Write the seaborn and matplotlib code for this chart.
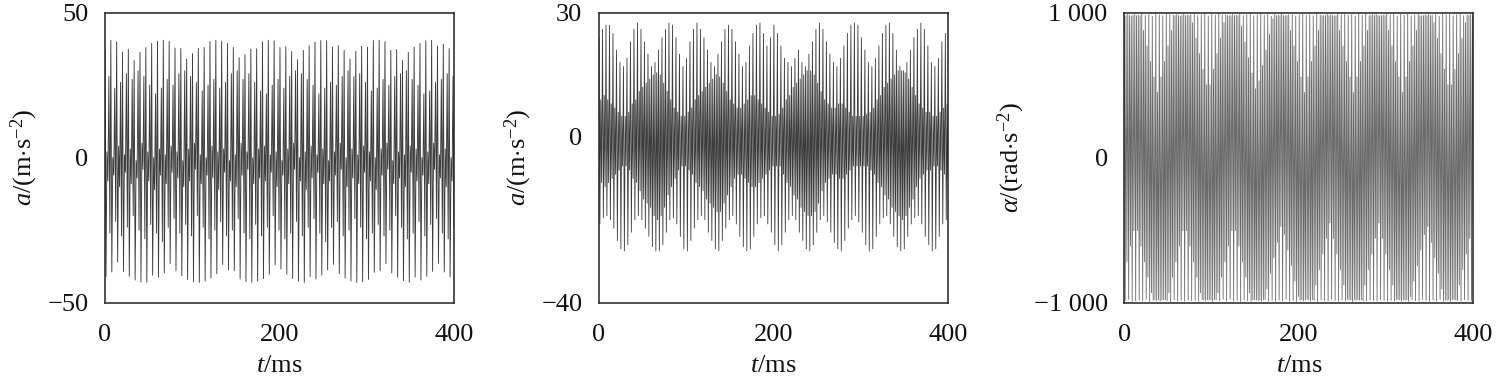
import numpy as np
import pandas as pd
import matplotlib
matplotlib.use("Agg")
import matplotlib.pyplot as plt
import seaborn as sns

# ---------------- data ----------------
x_limits = (0, 400)
x_ticks = [0, 200, 400]

# Panel 1: linear acceleration a/(m*s^-2); per vibration cycle: tall peak, tall trough,
# two small near-zero turning points, medium peak, medium trough
p1_tall_peak = [37.0, 40.5, 40.0, 36.5, 37.4, 33.5, 36.3, 38.0, 39.4, 40.2,
                40.5, 40.1, 37.8, 37.7, 34.0, 35.9, 37.7, 38.0, 40.1, 40.5,
                40.2, 39.4, 38.0, 34.5, 35.6, 37.4, 37.6, 40.0, 40.5, 40.3,
                38.0, 38.3, 36.6, 33.8, 37.0, 38.6, 39.8, 40.4, 40.4, 38.2,
                38.6, 37.0, 34.0, 36.7, 38.4, 38.1, 40.4, 40.5, 40.0, 37.0,
                37.3, 33.5, 36.3, 38.1, 39.4, 40.3, 40.5, 38.5, 39.1, 37.6]
p1_tall_trough = [-41.1, -39.4, -36.0, -39.2, -40.9, -42.2, -42.9, -43.0, -40.5, -41.2,
                  -39.7, -36.5, -39.0, -40.7, -42.0, -42.8, -43.0, -42.5, -41.5, -40.0,
                  -36.8, -38.7, -39.0, -41.8, -42.7, -43.0, -42.6, -41.7, -40.2, -37.0,
                  -38.4, -40.2, -41.7, -42.6, -43.0, -41.0, -41.8, -40.5, -38.7, -36.8,
                  -40.0, -41.5, -42.5, -43.0, -42.8, -42.0, -39.5, -39.0, -36.5, -39.7,
                  -41.2, -42.4, -43.0, -41.2, -42.2, -40.9, -39.2, -36.4, -39.4, -41.1]
p1_band_hi = [2, 0, 4, 1, 3, -1, 5, 2, 0, 3, 1, 4, 2, -1, 3, 5, 1, 0, 4, 2,
              3, -1, 1, 5, 2, 0, 3, 4, 1, 2, -1, 3, 5, 0, 2, 4, 1, 3, -1, 2,
              5, 0, 3, 1, 4, 2, 0, 3, 5, -1, 2, 1, 4, 3, 0, 2, 5, 1, 3, 0]
p1_band_lo = [-8, -6, -10, -5, -9, -7, -4, -8, -11, -6, -9, -5, -7, -10, -8, -4, -9, -6, -7, -11,
              -5, -8, -10, -6, -4, -9, -7, -8, -5, -10, -6, -9, -4, -8, -11, -7, -5, -9, -8, -6,
              -4, -10, -7, -9, -5, -8, -11, -6, -4, -9, -7, -10, -5, -8, -6, -9, -4, -7, -10, -8]
p1_mid_peak = [28, 24, 26, 29, 27, 30, 28, 25, 22, 24, 27, 25, 29, 30, 28, 26, 23, 25, 27, 24,
               26, 29, 30, 27, 29, 26, 23, 22, 25, 27, 24, 28, 30, 29, 27, 25, 22, 24, 26, 25,
               28, 30, 28, 29, 26, 23, 24, 27, 25, 28, 29, 30, 27, 25, 22, 23, 26, 27, 29, 28]
p1_mid_trough = [-26, -22, -27, -24, -20, -25, -28, -23, -26, -29, -24, -21, -26, -23, -27, -20,
                 -24, -28, -25, -22, -27, -25, -21, -26, -28, -23, -27, -24, -20, -25, -28, -26,
                 -22, -27, -24, -21, -26, -29, -24, -22, -27, -25, -21, -24, -28, -26, -23, -27,
                 -25, -20, -24, -28, -26, -22, -27, -23, -21, -26, -28, -24]

# Panel 2: linear acceleration a/(m*s^-2); per cycle: light peak, light trough, core peak, core trough
p2_peak = [24, 26, 27, 27, 25, 21, 18, 17, 19, 23,
           26, 27.5, 26, 23, 20, 17, 18, 21, 24, 26,
           27.5, 27, 24, 20, 17, 19, 23, 26, 27.5, 26,
           24, 21, 18, 17, 20, 23, 26, 27, 26, 23,
           20, 17, 18, 22, 25, 27, 27.5, 25, 22, 24,
           27, 25, 22, 19, 18, 17, 19, 21, 18, 17,
           20, 23, 26, 27.5, 26, 23, 20, 18, 17, 19,
           22, 25, 27, 27.5, 27, 24, 21, 18, 17, 19,
           22, 25, 27, 27.5, 25, 21, 17, 16, 18, 21,
           24, 26, 27.5, 26, 22, 18, 17, 19, 23, 25]
p2_trough = [-21, -19.5, -19, -20, -22, -25, -27, -27.5, -26, -23,
             -20, -19, -20, -22, -24, -26.5, -27.5, -27.5, -26, -23,
             -20, -19.5, -21, -24, -27, -27.5, -25, -22, -20, -19,
             -20, -23, -25, -27, -27.5, -25, -22, -20, -19, -21,
             -24, -26.5, -27.5, -27, -24, -21, -19.5, -19, -21, -23,
             -26, -27.5, -26, -23, -20, -19, -20, -23, -25, -27,
             -27.5, -26, -23, -20, -19, -20.5, -23, -25.5, -27, -27.5,
             -25, -22, -20, -19, -20.5, -23, -26, -27.5, -27, -24,
             -21, -19.5, -19, -21, -24, -26.5, -27.5, -27, -24, -21,
             -19.5, -19, -21, -24, -26, -27.5, -27, -24, -21, -20]
p2_core_peak = [9, 10, 9, 8, 7, 6, 5, 5, 6, 8,
                9, 11, 12, 13, 14, 15, 15.5, 15, 13, 11,
                9, 7, 6, 5, 5, 6, 7, 9, 10, 11,
                12, 13, 14, 15, 14.5, 13, 11, 9, 8, 7,
                7, 8, 9, 10, 10, 9, 8, 7, 6, 5,
                5, 5.5, 7, 9, 10, 12, 13, 14, 15, 16,
                16, 15, 13, 11, 9, 8, 7, 7, 8, 8,
                7, 6, 5, 5, 5, 5, 5.5, 6, 7, 9,
                10, 12, 13, 14, 15, 16, 16, 15.5, 14, 12,
                10, 8, 7, 6, 6, 5, 5, 6, 7, 8]
p2_core_trough = [-11, -12, -11, -10, -9, -8, -7, -7, -8, -10,
                  -11, -13, -15, -16, -17, -19, -20, -19, -17, -14,
                  -12, -10, -8, -7, -7, -8, -9, -11, -12, -13,
                  -15, -16, -17, -18, -18, -16, -14, -12, -10, -9,
                  -9, -10, -11, -12, -12, -11, -10, -9, -8, -7,
                  -7, -7, -9, -11, -12, -14, -15, -17, -18, -19,
                  -19, -18, -16, -13, -11, -10, -9, -9, -10, -10,
                  -9, -8, -7, -7, -7, -7, -7, -8, -9, -11,
                  -12, -14, -15, -17, -18, -19, -20, -19, -17, -15,
                  -12, -10, -9, -8, -8, -7, -7, -8, -9, -10]

# Panel 3: angular acceleration alpha/(rad*s^-2); per cycle: full peak, full trough, core peak, core trough
p3_peak = [985, 990, 978, 988, 983, 992, 980, 987, 976, 989,
           984, 979, 991, 986, 981, 988, 977, 990, 983, 986,
           989, 980, 985, 992, 978, 987, 983, 990, 981, 986,
           977, 988, 984, 991, 980, 986, 989, 979, 985, 990,
           982, 987, 976, 989, 984, 991, 980, 986, 988, 978,
           985, 990, 983, 987, 979, 992, 984, 981, 989, 986,
           978, 988, 985, 990, 982, 987, 976, 989, 983, 991,
           980, 986, 988, 979, 985, 990, 984, 987, 977, 989,
           983, 991, 980, 986, 988, 978, 985, 990, 982, 987,
           976, 989, 984, 991, 980, 986, 989, 979, 985, 988]
p3_trough = [-984, -979, -990, -986, -981, -988, -977, -990, -983, -986,
             -989, -980, -985, -992, -978, -987, -983, -990, -981, -986,
             -985, -990, -978, -988, -983, -992, -980, -987, -976, -989,
             -977, -988, -984, -991, -980, -986, -989, -979, -985, -990,
             -978, -988, -985, -990, -982, -987, -976, -989, -983, -991,
             -982, -987, -976, -989, -984, -991, -980, -986, -988, -978,
             -985, -990, -983, -987, -979, -992, -984, -981, -989, -986,
             -980, -986, -988, -979, -985, -990, -984, -987, -977, -989,
             -983, -991, -980, -986, -988, -978, -985, -990, -982, -987,
             -976, -989, -984, -991, -980, -986, -989, -979, -985, -988]
p3_core_peak = [980, 980, 980, 980, 980, 878, 771, 664, 557, 450,
                557, 664, 771, 878, 980, 980, 980, 980, 980, 931,
                824, 717, 610, 503, 503, 610, 717, 824, 931, 980,
                980, 980, 980, 905, 797, 690, 584, 476, 530, 637,
                744, 851, 958, 980, 980, 980, 980, 878, 771, 664,
                557, 450, 557, 664, 771, 878, 980, 980, 980, 980,
                980, 878, 771, 664, 557, 450, 557, 664, 771, 878,
                980, 980, 980, 980, 980, 878, 771, 664, 557, 450,
                557, 664, 771, 878, 980, 980, 980, 980, 931, 824,
                717, 610, 503, 503, 610, 717, 824, 931, 980, 980]
p3_core_trough = [-717, -610, -503, -503, -610, -717, -824, -931, -980, -980,
                  -980, -980, -931, -824, -717, -610, -503, -503, -610, -717,
                  -824, -931, -980, -980, -980, -980, -931, -824, -717, -610,
                  -503, -503, -610, -717, -824, -931, -980, -980, -980, -980,
                  -905, -797, -690, -584, -476, -530, -637, -744, -851, -958,
                  -980, -980, -980, -980, -878, -771, -664, -557, -450, -557,
                  -664, -771, -878, -980, -980, -980, -980, -980, -878, -771,
                  -664, -557, -450, -557, -664, -771, -878, -980, -980, -980,
                  -980, -958, -851, -744, -637, -530, -476, -584, -690, -797,
                  -905, -980, -980, -980, -980, -878, -771, -664, -557, -450]

y1_ticks = [-50, 0, 50]
y2_ticks = [-40, 0, 30]
y3_ticks = [-1000, 0, 1000]
y3_ticklabels = ["\u22121 000", "0", "1 000"]


def build(*cols):
    v = np.column_stack([np.asarray(c, float) for c in cols]).ravel()
    t = np.linspace(x_limits[0], x_limits[1], len(v))
    return pd.DataFrame({"t": t, "v": v})


df1 = build(p1_tall_peak, p1_tall_trough, p1_band_hi, p1_band_lo, p1_mid_peak, p1_mid_trough)
df2 = build(p2_peak, p2_trough, p2_core_peak, p2_core_trough)
df3 = build(p3_peak, p3_trough, p3_core_peak, p3_core_trough)

# ---------------- style ----------------
sns.set_style("white")
plt.rcParams["font.family"] = ["Liberation Serif", "DejaVu Serif"]
plt.rcParams["mathtext.fontset"] = "custom"
plt.rcParams["mathtext.rm"] = "Liberation Serif"
plt.rcParams["mathtext.it"] = "Liberation Serif:italic"
plt.rcParams["axes.unicode_minus"] = True

W, H = 1497, 386
fig = plt.figure(figsize=(W / 100, H / 100), dpi=100)

lefts = [105, 599, 1124.3]
ax_w = 349
top_px, bot_px = 12.7, 302.7

panels = [
    (df1, (-50, 50), y1_ticks, None, r"$a$/(m$\cdot$s$^{-2}$)", "#3c3c3c", 0.65),
    (df2, (-40, 30), y2_ticks, None, r"$a$/(m$\cdot$s$^{-2}$)", "#3c3c3c", 0.6),
    (df3, (-1000, 1000), y3_ticks, y3_ticklabels, r"$\alpha$/(rad$\cdot$s$^{-2}$)", "#6a6a6a", 0.6),
]

for left, (df, ylim, yt, ytl, ylab, col, lw) in zip(lefts, panels):
    ax = fig.add_axes([left / W, (H - bot_px) / H, ax_w / W, (bot_px - top_px) / H])
    sns.lineplot(data=df, x="t", y="v", ax=ax, color=col, linewidth=lw,
                 estimator=None, sort=False, legend=False)
    ax.set_xlim(*x_limits)
    ax.set_ylim(*ylim)
    ax.set_xticks(x_ticks)
    ax.set_yticks(yt)
    if ytl is not None:
        ax.set_yticklabels(ytl)
    ax.tick_params(direction="in", length=5, width=1.0, color="#222222",
                   labelsize=19, pad=12, labelcolor="#111111")
    ax.tick_params(axis="x", pad=15)
    for s in ax.spines.values():
        s.set_color("#222222")
        s.set_linewidth(1.1)
    ax.set_xlabel(r"$t$/ms", fontsize=19, color="#111111", labelpad=7)
    ax.set_ylabel(ylab, fontsize=19, color="#111111", labelpad=5)

fig.savefig("out.png", dpi=100, facecolor="white")
